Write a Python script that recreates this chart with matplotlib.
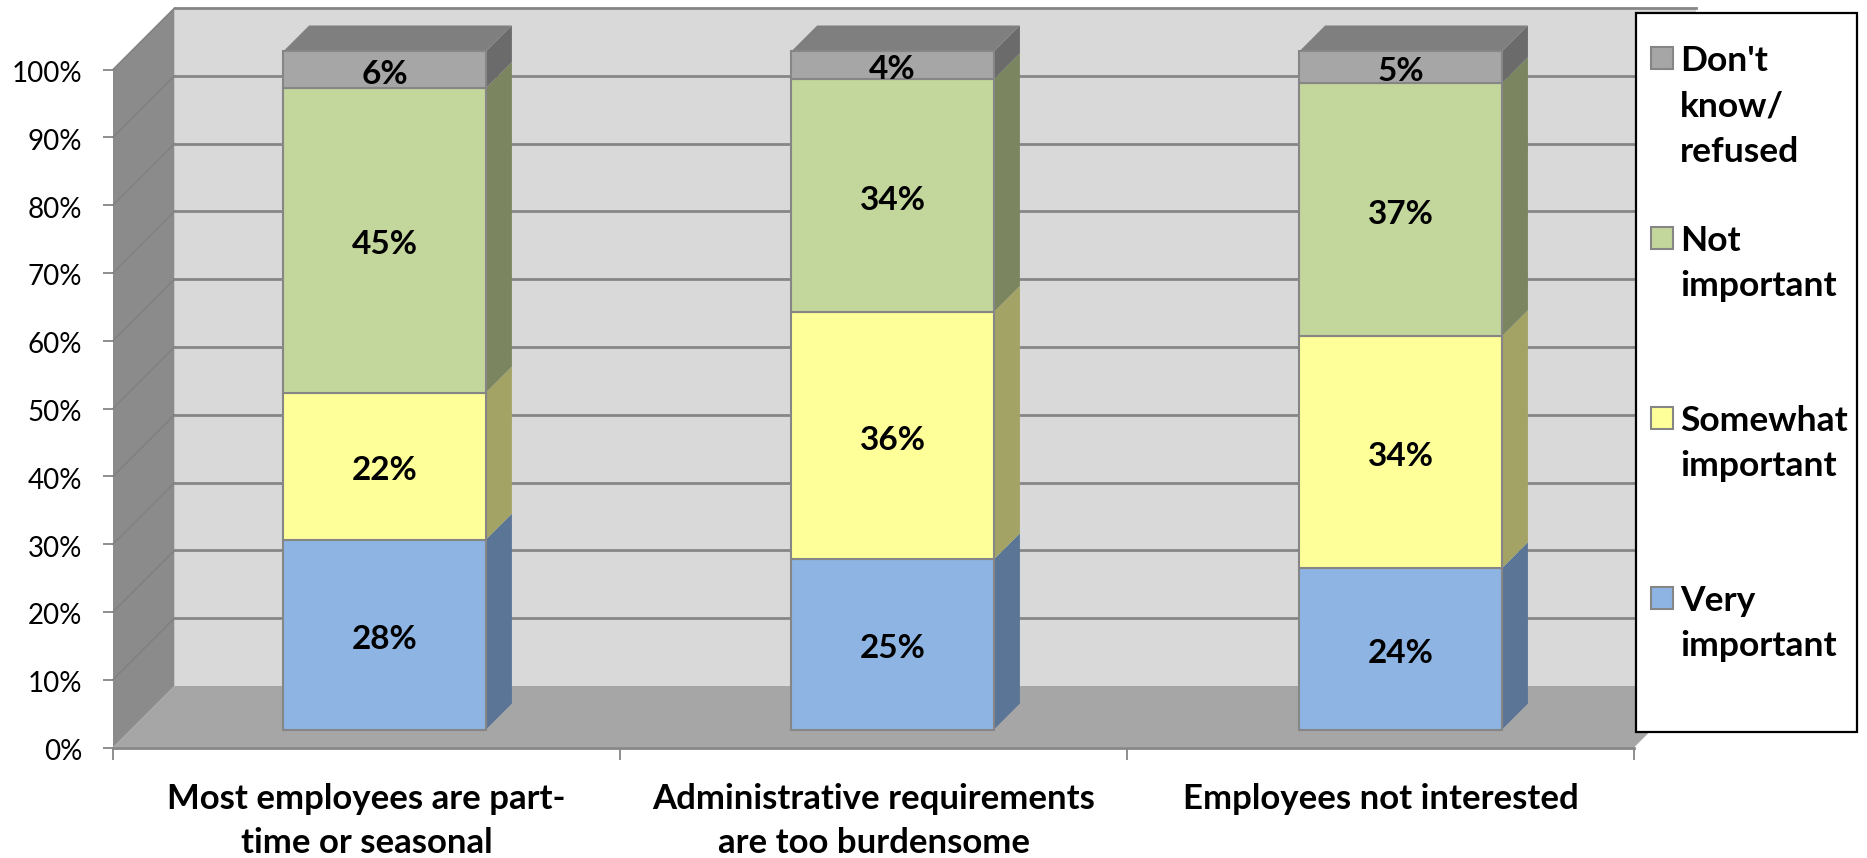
import matplotlib
matplotlib.use("Agg")
import matplotlib.pyplot as plt
from matplotlib.patches import Polygon, Rectangle
from matplotlib.transforms import Affine2D, IdentityTransform
import numpy as np

plt.rcParams['font.family'] = ['Lato', 'DejaVu Sans']

categories = ["Most employees are part-\ntime or seasonal",
              "Administrative requirements\nare too burdensome",
              "Employees not interested"]
series_names = ["Very\nimportant", "Somewhat\nimportant", "Not\nimportant", "Don't\nknow/\nrefused"]
very = [28.0, 25.1, 23.8]
somewhat = [21.7, 36.5, 34.2]
not_imp = [44.9, 34.3, 37.3]
dont_know = [5.4, 4.1, 4.7]
very_labels = ["28%", "25%", "24%"]
somewhat_labels = ["22%", "36%", "34%"]
not_imp_labels = ["45%", "34%", "37%"]
dont_know_labels = ["6%", "4%", "5%"]
ytick_values = [0, 10, 20, 30, 40, 50, 60, 70, 80, 90, 100]

W, H = 1867, 858
fig = plt.figure(figsize=(W / 100, H / 100), dpi=100, facecolor='white')
L, R, B, T = 113, 1634, H - 747.5, H - 69.5
ax = fig.add_axes([L / W, B / H, (R - L) / W, (T - B) / H])
ax.set_xlim(0, 3)
ax.set_ylim(0, 100)
ax.patch.set_visible(False)

DEPTH = 61.5
BAR_FRONT = 18
BAR_BACK = 44
GRID = '#868686'
ID = IdentityTransform()


def P(x, y, d=0):
    p = ax.transData.transform((x, y))
    return (p[0] + d, p[1] + d)


def face(pts, fc, ec='none', lw=0, z=1):
    ax.add_patch(Polygon(pts, closed=True, facecolor=fc, edgecolor=ec, linewidth=lw,
                         transform=ID, clip_on=False, zorder=z))


# walls and floor
face([P(0, 0, DEPTH), P(3, 0, DEPTH), P(3, 100, DEPTH), P(0, 100, DEPTH)], '#D9D9D9', z=1)
face([P(0, 0), P(0, 100), P(0, 100, DEPTH), P(0, 0, DEPTH)], '#8B8B8B', z=1)
face([P(0, 0), P(3, 0), P(3, 0, DEPTH), P(0, 0, DEPTH)], '#A6A6A6', z=1)
for v in ytick_values:
    if v > 0:
        a, b, c = P(0, v), P(0, v, DEPTH), P(3, v, DEPTH)
        ax.plot([b[0], c[0]], [b[1], c[1]], color=GRID, lw=2, transform=ID, clip_on=False, zorder=2)
        ax.plot([a[0], b[0]], [a[1], b[1]], color='#808080', lw=1, transform=ID, clip_on=False, zorder=2)

# bars
xc = np.array([0.5, 1.502, 2.504])
width = 0.4
series = [very, somewhat, not_imp, dont_know]
texts = [very_labels, somewhat_labels, not_imp_labels, dont_know_labels]
fronts = ['#8DB4E2', '#FFFF99', '#C3D69B', '#A6A6A6']
sides = ['#5A7596', '#A3A366', '#7B8660', '#6B6B6B']
front_tr = ax.transData + Affine2D().translate(BAR_FRONT, BAR_FRONT)
label_tr = front_tr + Affine2D().translate(0, -4.5)
bottom = np.zeros(3)
for vals, labs, fc, sc in zip(series, texts, fronts, sides):
    vals = np.array(vals)
    ax.bar(xc, vals, width, bottom=bottom, color=fc, edgecolor=GRID, linewidth=1.5,
           transform=front_tr, clip_on=False, zorder=4)
    for i in range(3):
        xr = xc[i] + width / 2
        y0, y1 = bottom[i], bottom[i] + vals[i]
        face([P(xr, y0, BAR_FRONT), P(xr, y1, BAR_FRONT), P(xr, y1, BAR_BACK), P(xr, y0, BAR_BACK)], sc, z=3)
        ax.text(xc[i], (y0 + y1) / 2, labs[i], transform=label_tr, ha='center', va='center',
                fontsize=24, fontweight='bold', color='black', zorder=6, clip_on=False)
    bottom = bottom + vals
for i in range(3):
    xl, xr = xc[i] - width / 2, xc[i] + width / 2
    face([P(xl, 100, BAR_FRONT), P(xr, 100, BAR_FRONT), P(xr, 100, BAR_BACK), P(xl, 100, BAR_BACK)], '#7F7F7F', z=3)

# axes decoration
for s in ['top', 'right', 'left']:
    ax.spines[s].set_visible(False)
ax.spines['bottom'].set_color(GRID)
ax.spines['bottom'].set_linewidth(2)
ax.spines['bottom'].set_zorder(5)
ax.set_yticks(ytick_values)
ax.set_yticklabels([f"{v}%" for v in ytick_values], fontsize=20)
ax.tick_params(axis='y', length=7, width=1.3, color=GRID, pad=15, labelcolor='black')
for lab in ax.get_yticklabels():
    lab.set_transform(lab.get_transform() + Affine2D().translate(0, -2))
ax.set_xticks([0, 1, 2, 3])
ax.set_xticklabels([])
ax.tick_params(axis='x', which='major', length=8.5, width=1.3, color=GRID)
ax.set_xticks([0.5, 1.5, 2.5], minor=True)
ax.set_xticklabels(categories, minor=True, fontsize=25, fontweight='bold', linespacing=1.47)
ax.tick_params(axis='x', which='minor', length=0, pad=25.5, labelcolor='black')

# legend
fig.add_artist(Rectangle((1636 / W, (H - 732.3) / H), 220.7 / W, 719 / H, transform=fig.transFigure,
                         facecolor='white', edgecolor='black', linewidth=1.6, zorder=10))
legend_y = [598, 418, 238, 58]
for name, fc, y in zip(series_names, fronts, legend_y):
    fig.add_artist(Rectangle((1651 / W, (H - y - 11) / H), 22 / W, 22 / H, transform=fig.transFigure,
                             facecolor=fc, edgecolor=GRID, linewidth=1.5, zorder=11))
    for j, line in enumerate(name.split("\n")):
        t = fig.text(1680 / W, (H - y - 45.5 * j) / H, line, ha='left', va='center_baseline',
                     fontsize=25.5, fontweight='bold', color='black', zorder=12)

fig.savefig('out.png', dpi=100)
